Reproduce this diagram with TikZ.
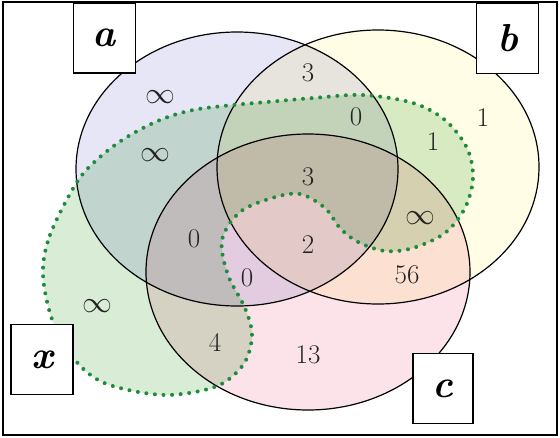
\documentclass[tikz,border=0pt]{standalone}
\usepackage{fontspec}
\definecolor{cola}{RGB}{230,230,246}
\definecolor{colb}{RGB}{255,253,230}
\definecolor{colc}{RGB}{252,227,233}
\definecolor{colx}{RGB}{216,236,214}
\definecolor{dotgreen}{RGB}{30,140,60}
\definecolor{numgray}{RGB}{35,35,35}
\tikzset{
  setfill/.style={blend mode=multiply},
  setline/.style={draw=black, line width=1.2pt},
  dotline/.style={draw=dotgreen, line width=4pt, line cap=round, dash pattern=on 0pt off 8.6pt},
  num/.style={text=numgray, font=\fontsize{27}{27}\selectfont, inner sep=0pt},
  infnum/.style={num, scale=1.2},
  labelbox/.style={draw=black, line width=1.4pt, fill=white, minimum width=62pt, minimum height=70pt, inner sep=0pt, font=\fontsize{39}{39}\selectfont\bfseries\itshape}
}
\begin{document}
\begin{tikzpicture}[x=1pt,y=-1pt]
\useasboundingbox (0,0) rectangle (560,437);
\fill[white] (0,0) rectangle (560,437);
% x blob path
\def\xblob{plot[smooth cycle, tension=0.55] coordinates {(43,275) (50,235) (77,182) (100,157) (127,137) (160,120) (193,110) (233,105) (267,102) (313,98) (363,95) (413,103) (445,120) (467,148) (473,178) (465,208) (445,233) (413,248) (385,251) (358,242) (340,228) (325,208) (300,194) (272,198) (240,212) (222,240) (228,275) (245,308) (252,335) (245,362) (225,382) (200,391) (167,395) (133,391) (100,381) (75,360) (53,322)}}
\begin{scope}[setfill]
  \fill[cola] (237,169) ellipse [x radius=161, y radius=137];
  \fill[colb] (378,167) ellipse [x radius=161, y radius=137];
  \fill[colc] (308,272) ellipse [x radius=162, y radius=138];
  \fill[colx] \xblob;
\end{scope}
\draw[setline] (237,169) ellipse [x radius=161, y radius=137];
\draw[setline] (378,167) ellipse [x radius=161, y radius=137];
\draw[setline] (308,272) ellipse [x radius=162, y radius=138];
\draw[dotline] \xblob;
% numbers
\node[infnum] (n1) at (160,97) {$\infty$};
\node[infnum] (n2) at (155,155) {$\infty$};
\node[num] (n3) at (308,73) {3};
\node[num] (n4) at (356,117) {0};
\node[num] (n5) at (433,142) {1};
\node[num] (n6) at (483,118) {1};
\node[num] (n7) at (308,177) {3};
\node[infnum] (n8) at (420,218) {$\infty$};
\node[num] (n9) at (194,239) {0};
\node[num] (n10) at (308,245) {2};
\node[num] (n11) at (247,278) {0};
\node[num] (n12) at (407,275) {56};
\node[infnum] (n13) at (97,306) {$\infty$};
\node[num] (n14) at (215,342) {4};
\node[num] (n15) at (308,355) {13};
% label boxes
\node[labelbox] (la) at (104.5,38) {a};
\node[labelbox] (lb) at (507.5,38.5) {b};
\node[labelbox] (lx) at (42,359.5) {x};
\node[labelbox, minimum width=60pt] (lc) at (443,388.5) {c};
% frame
\draw[line width=1.4pt] (3,2) rectangle (557,435);
\end{tikzpicture}
\end{document}
